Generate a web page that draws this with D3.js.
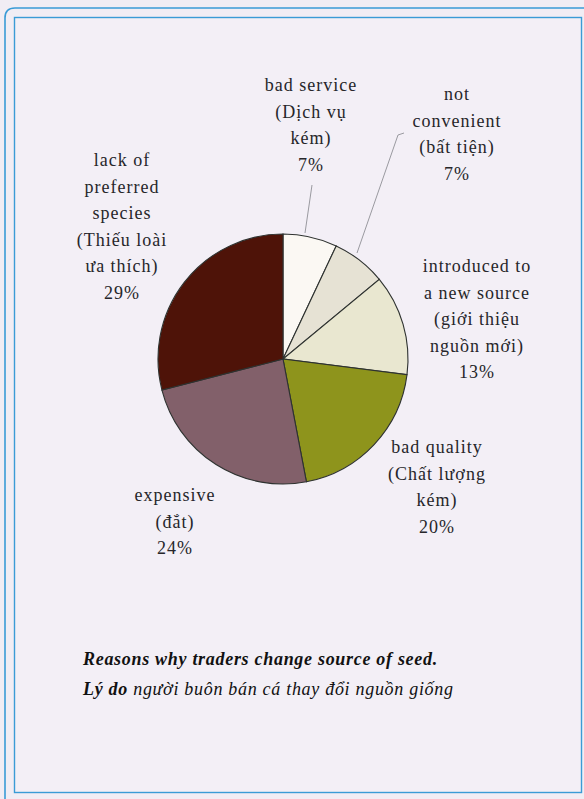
<!DOCTYPE html>
<html>
<head>
<meta charset="utf-8">
<script src="https://cdn.jsdelivr.net/npm/d3@7"></script>
<style>
html,body{margin:0;padding:0;background:#f1edf4;}
svg{display:block;}
</style>
</head>
<body>
<svg id="chart" width="584" height="799"></svg>
<script>
const categories = ["bad service", "not convenient", "introduced to a new source", "bad quality", "expensive", "lack of preferred species"];
const labelLines = [
  ["bad service", "(Dịch vụ", "kém)", "7%"],
  ["not", "convenient", "(bất tiện)", "7%"],
  ["introduced to", "a new source", "(giới thiệu", "nguồn mới)", "13%"],
  ["bad quality", "(Chất lượng", "kém)", "20%"],
  ["expensive", "(đắt)", "24%"],
  ["lack of", "preferred", "species", "(Thiếu loài", "ưa thích)", "29%"]
];
const values = [7, 7, 13, 20, 24, 29];
const colors = ["#fbf8f3", "#e6e2d4", "#e9e7d0", "#8e941c", "#82606a", "#4e1308"];
const captionEn = "Reasons why traders change source of seed.";
const captionViBold = "Lý do";
const captionViRest = " người buôn bán cá thay đổi nguồn giống";

const FONT = "Liberation Serif";
const svg = d3.select("#chart");

// frame borders
svg.append("path")
  .attr("d", "M5,800 L5,18 Q5,8 15,8 L590,8")
  .attr("fill", "none").attr("stroke", "#3a9bd6").attr("stroke-width", 1.6);
svg.append("rect")
  .attr("x", 14.5).attr("y", 17.5).attr("width", 567).attr("height", 775)
  .attr("fill", "#f3eff6").attr("stroke", "#3a9bd6").attr("stroke-width", 1.4);

const cx = 283, cy = 359, r = 125;
const pie = d3.pie().sort(null).value(d => d)(values);
const arc = d3.arc().innerRadius(0).outerRadius(r);
const g = svg.append("g").attr("transform", `translate(${cx},${cy})`);
g.selectAll("path").data(pie).join("path")
  .attr("d", arc)
  .attr("fill", (d, i) => colors[i])
  .attr("stroke", "#2e3230")
  .attr("stroke-width", 1.1);

// leader lines
const leaders = [
  [[312, 185], [305, 233]],
  [[357, 253], [398, 135], [404, 133]]
];
svg.selectAll("path.leader").data(leaders).join("path")
  .attr("class", "leader")
  .attr("d", d3.line())
  .attr("fill", "none").attr("stroke", "#9a9aa0").attr("stroke-width", 1);

// labels
const labelPos = [
  [311, 91], [457, 100], [477, 272], [437, 453], [175, 501], [122, 166]
];
const lineH = 26.5;
labelLines.forEach((lines, i) => {
  const t = svg.append("text")
    .attr("text-anchor", "middle")
    .attr("font-family", FONT)
    .attr("font-size", 18)
    .attr("letter-spacing", 1)
    .attr("fill", "#26262a");
  lines.forEach((ln, j) => {
    t.append("tspan").attr("x", labelPos[i][0]).attr("y", labelPos[i][1] + j * lineH).text(ln);
  });
});

// captions
svg.append("text")
  .attr("x", 83).attr("y", 665)
  .attr("font-family", FONT)
  .attr("font-size", 18).attr("font-style", "italic").attr("font-weight", "bold")
  .attr("letter-spacing", 0.7)
  .attr("fill", "#111")
  .text(captionEn);
const c2 = svg.append("text")
  .attr("x", 83).attr("y", 695)
  .attr("font-family", FONT)
  .attr("font-size", 18).attr("font-style", "italic")
  .attr("letter-spacing", 0.7)
  .attr("fill", "#111");
c2.append("tspan").attr("font-weight", "bold").text(captionViBold);
c2.append("tspan").text(captionViRest);
</script>
</body>
</html>
